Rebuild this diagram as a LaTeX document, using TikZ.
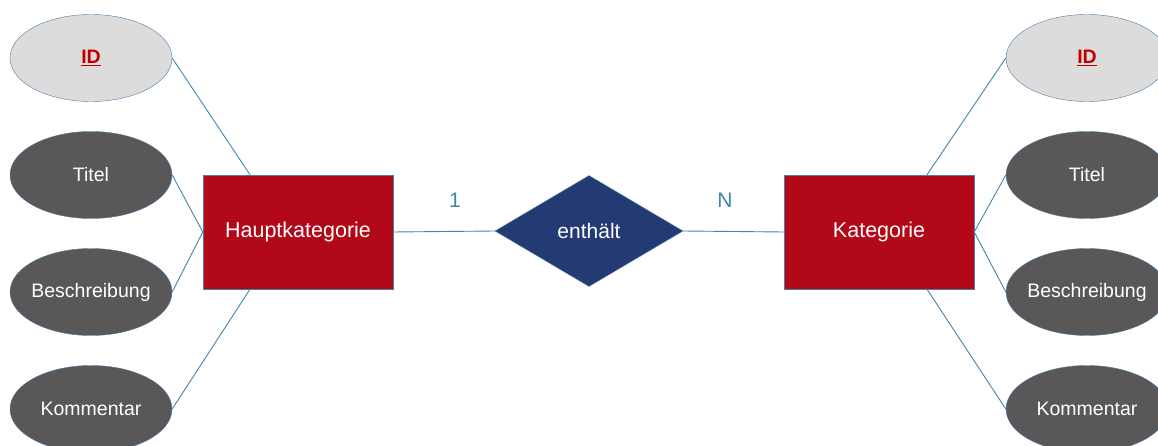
\documentclass[tikz,border=0pt]{standalone}
\usepackage{fontspec}
\setmainfont{Liberation Sans}
\usetikzlibrary{shapes.geometric}
\definecolor{erred}{RGB}{179,8,24}
\definecolor{ernavy}{RGB}{36,58,114}
\definecolor{ergrey}{RGB}{89,87,87}
\definecolor{erlight}{RGB}{220,220,220}
\definecolor{erline}{RGB}{70,132,165}
\definecolor{erborder}{RGB}{74,126,170}
\definecolor{erkey}{RGB}{192,0,0}
\tikzset{
	entity/.style={rectangle,draw=erborder,fill=erred,text=white,minimum width=190pt,minimum height=114pt,font=\fontsize{21.5}{24}\selectfont},
	attrib/.style={ellipse,draw=erborder,fill=ergrey,text=white,minimum width=162pt,minimum height=87pt,inner xsep=-12pt,inner ysep=0pt,font=\fontsize{19.5}{22}\selectfont},
	keyattrib/.style={attrib,fill=erlight,text=erkey,font=\fontsize{19.5}{22}\selectfont\bfseries},
	relation/.style={diamond,draw=erborder,fill=ernavy,text=white,minimum width=188pt,minimum height=111pt,inner sep=0pt,font=\fontsize{21}{24}\selectfont},
	link/.style={draw=erline,line width=0.9pt},
	card/.style={text=erline,font=\fontsize{21}{24}\selectfont}
}
\begin{document}
\begin{tikzpicture}[x=1pt,y=1pt]
			\useasboundingbox(0,0) rectangle (1158,445);
			\node(haupt) at(298,213)[entity]{Hauptkategorie};
			\node(enth) at(589,214)[relation]{enthält};
			\node(kat) at(879,213)[entity]{Kategorie};
			\node(idL) at(91,387)[keyattrib]{\underline{ID}};
			\node(titelL) at(91,270)[attrib]{Titel};
			\node(beschrL) at(91,153)[attrib]{Beschreibung};
			\node(kommL) at(91,36)[attrib]{Kommentar};
			\node(idR) at(1087,387)[keyattrib]{\underline{ID}};
			\node(titelR) at(1087,270)[attrib]{Titel};
			\node(beschrR) at(1087,153)[attrib]{Beschreibung};
			\node(kommR) at(1087,36)[attrib]{Kommentar};
			\draw[link](idL.east)--(haupt.130);
			\draw[link](titelL.east)--(haupt.west);
			\draw[link](beschrL.east)--(haupt.west);
			\draw[link](kommL.east)--(haupt.230);
			\draw[link](idR.west)--(kat.50);
			\draw[link](titelR.west)--(kat.east);
			\draw[link](beschrR.west)--(kat.east);
			\draw[link](kommR.west)--(kat.310);
			\draw[link](haupt.east)--(enth.west);
			\draw[link](enth.east)--(kat.west);
			\node(one) at(455,245)[card]{1};
			\node(many) at(725,245)[card]{N};
			\end{tikzpicture}
\end{document}
